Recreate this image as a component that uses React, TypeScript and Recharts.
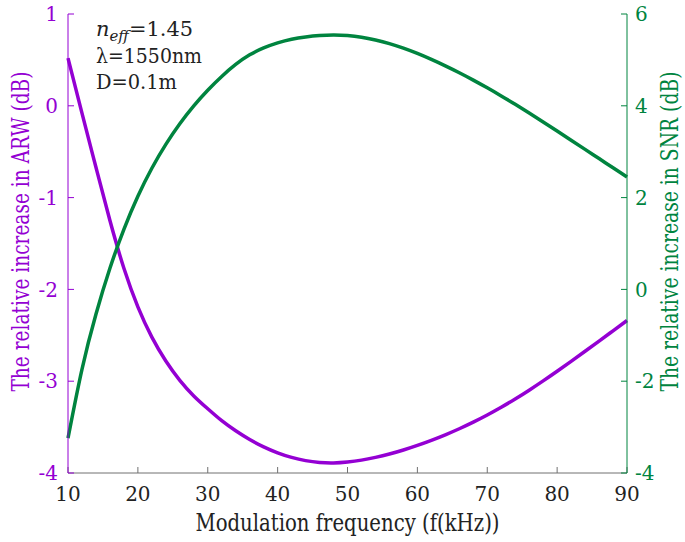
import React from 'react';
// npm
import { LineChart, Line, XAxis, YAxis, Label } from 'recharts';

// modulation frequency (kHz)
const freq = [
  10, 12, 14, 16, 18, 20, 22, 24, 26, 28, 30, 32, 34, 36, 38, 40, 42, 44, 46, 48, 50,
  52, 54, 56, 58, 60, 62, 64, 66, 68, 70, 72, 74, 76, 78, 80, 82, 84, 86, 88, 90,
];
// relative increase in ARW (dB), left axis
const arw = [
  0.52, -0.08, -0.67, -1.25, -1.77, -2.19, -2.52, -2.78, -2.99, -3.16, -3.3, -3.43, -3.54,
  -3.635, -3.715, -3.78, -3.83, -3.865, -3.885, -3.89, -3.88, -3.86, -3.83, -3.793, -3.749,
  -3.699, -3.644, -3.584, -3.518, -3.446, -3.368, -3.284, -3.194, -3.098, -2.997, -2.892,
  -2.784, -2.674, -2.563, -2.451, -2.339,
];
// relative increase in SNR (dB), right axis
const snr = [
  -3.24, -1.74, -0.54, 0.46, 1.31, 2.03, 2.64, 3.16, 3.61, 4.0, 4.34, 4.64, 4.9, 5.11, 5.26,
  5.37, 5.45, 5.5, 5.53, 5.54, 5.53, 5.495, 5.435, 5.355, 5.255, 5.14, 5.01, 4.87, 4.72,
  4.56, 4.392, 4.216, 4.033, 3.843, 3.648, 3.45, 3.25, 3.05, 2.85, 2.65, 2.45,
];

const xTicks = [10, 20, 30, 40, 50, 60, 70, 80, 90];
const leftTicks = [-4, -3, -2, -1, 0, 1];
const rightTicks = [-4, -2, 0, 2, 4, 6];

const PURPLE = '#9400d3';
const GREEN = '#00843f';
const FONT = 'DejaVu Serif';

const data = freq.map((f, i) => ({ f, arw: arw[i], snr: snr[i] }));

const NoTick = () => <g />;

const xTitle = (props: any) => {
  const { x, y, width, height } = props.viewBox;
  return (
    <text
      x={x + width / 2}
      y={y + height - 11}
      textAnchor="middle"
      fill="#222"
      fontSize={23.5}
      textLength={304}
      lengthAdjust="spacingAndGlyphs"
    >
      Modulation frequency (f(kHz))
    </text>
  );
};

const yTitle = (text: string, color: string, cx: number) => (props: any) => {
  const { y, height } = props.viewBox;
  const cy = y + height / 2 - 12;
  return (
    <text
      x={cx}
      y={cy}
      dy="0.35em"
      transform={`rotate(-90 ${cx} ${cy})`}
      textAnchor="middle"
      fill={color}
      fontSize={23.5}
      textLength={320}
      lengthAdjust="spacingAndGlyphs"
    >
      {text}
    </text>
  );
};

const App = () => {
  return (
    <div
      style={{
        position: 'absolute',
        left: 0,
        top: 0,
        width: 685,
        height: 542,
        background: '#fff',
        fontFamily: FONT,
      }}
    >
      <LineChart width={685} height={542} data={data} margin={{ top: 14, right: 0, bottom: 0, left: 0 }}>
        <XAxis
          xAxisId="top"
          orientation="top"
          dataKey="f"
          type="number"
          domain={[10, 90]}
          ticks={xTicks}
          height={0}
          tick={NoTick}
          tickSize={-6}
          stroke="#707070"
        />
        <XAxis
          xAxisId="bottom"
          dataKey="f"
          type="number"
          domain={[10, 90]}
          ticks={xTicks}
          height={69}
          tickSize={-6}
          tickMargin={20}
          stroke="#707070"
          tick={{ fill: '#222', fontSize: 20 }}
        >
          <Label content={xTitle} />
        </XAxis>
        <YAxis
          yAxisId="left"
          type="number"
          domain={[-4, 1]}
          ticks={leftTicks}
          width={68}
          tickSize={-6}
          tickMargin={16}
          stroke={PURPLE}
          tick={{ fill: PURPLE, fontSize: 20 }}
        >
          <Label content={yTitle('The relative increase in ARW (dB)', PURPLE, 21)} />
        </YAxis>
        <YAxis
          yAxisId="right"
          orientation="right"
          type="number"
          domain={[-4, 6]}
          ticks={rightTicks}
          width={58}
          tickSize={-6}
          tickMargin={14}
          stroke={GREEN}
          tick={{ fill: GREEN, fontSize: 20 }}
        >
          <Label content={yTitle('The relative increase in SNR (dB)', GREEN, 670)} />
        </YAxis>
        <Line
          xAxisId="bottom"
          yAxisId="left"
          type="natural"
          dataKey="arw"
          stroke={PURPLE}
          strokeWidth={3.5}
          dot={false}
          isAnimationActive={false}
        />
        <Line
          xAxisId="bottom"
          yAxisId="right"
          type="natural"
          dataKey="snr"
          stroke={GREEN}
          strokeWidth={3.5}
          dot={false}
          isAnimationActive={false}
        />
      </LineChart>
      <svg
        width={220}
        height={100}
        style={{ position: 'absolute', left: 0, top: 0, pointerEvents: 'none' }}
        fontSize={21}
        fill="#222"
      >
        <text x={96} y={36} textLength={97} lengthAdjust="spacingAndGlyphs">
          <tspan fontStyle="italic">n</tspan>
          <tspan fontStyle="italic" fontSize={15} dy={5}>eff</tspan>
          <tspan dy={-5}>=1.45</tspan>
        </text>
        <text x={96} y={63} textLength={106} lengthAdjust="spacingAndGlyphs">
          λ=1550nm
        </text>
        <text x={96} y={89} textLength={81} lengthAdjust="spacingAndGlyphs">
          D=0.1m
        </text>
      </svg>
    </div>
  );
};

export default App;
